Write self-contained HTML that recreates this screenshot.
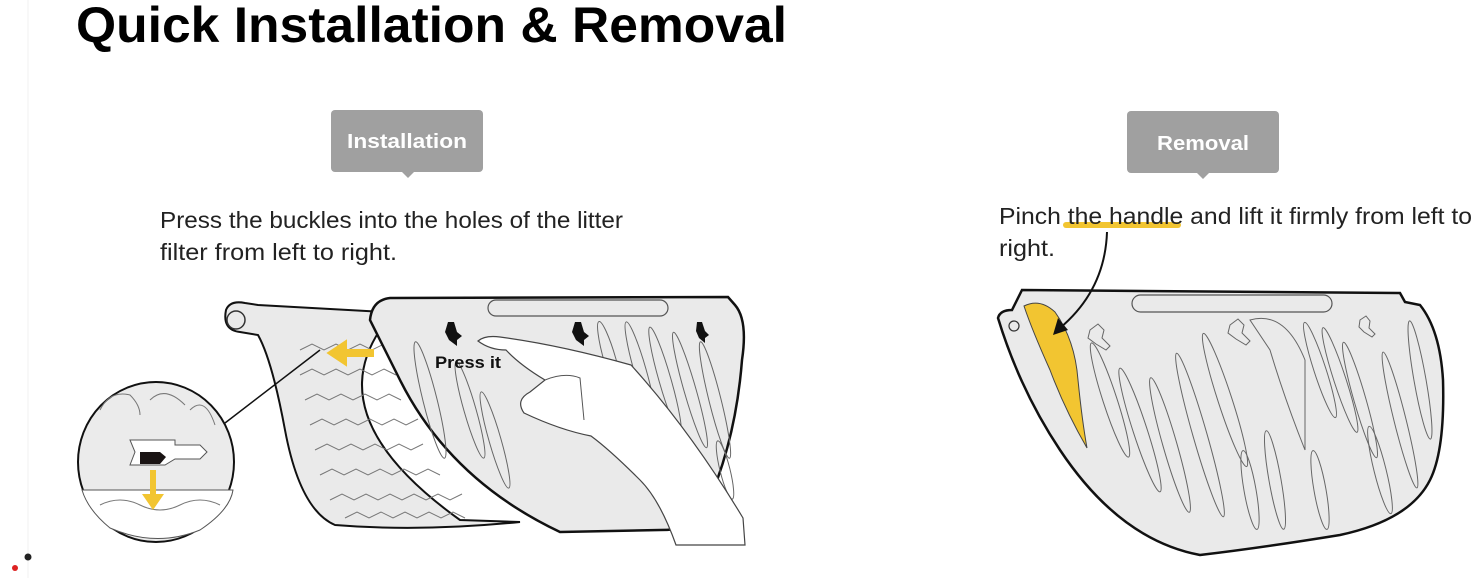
<!DOCTYPE html>
<html><head><meta charset="utf-8"><style>
html,body{margin:0;padding:0;background:#fff;}
svg{display:block;}
text{font-family:"Liberation Sans",sans-serif;}
</style></head><body>
<svg width="1472" height="578" viewBox="0 0 1472 578" xmlns="http://www.w3.org/2000/svg">
<line x1="28" y1="0" x2="28" y2="578" stroke="#f0f0f0" stroke-width="1"/>
<text x="76" y="42" font-size="50" font-weight="bold" textLength="711" lengthAdjust="spacingAndGlyphs" fill="#000">Quick Installation &amp; Removal</text>

<rect x="331" y="110" width="152" height="62" rx="4" fill="#a0a0a0"/>
<path d="M402 172 L408 178 L414 172 Z" fill="#a0a0a0"/>
<text x="407" y="148" font-size="20" font-weight="bold" fill="#fff" text-anchor="middle" textLength="120" lengthAdjust="spacingAndGlyphs">Installation</text>
<text x="160" y="228" font-size="23" fill="#222" textLength="463" lengthAdjust="spacingAndGlyphs">Press the buckles into the holes of the litter</text>
<text x="160" y="260" font-size="23" fill="#222" textLength="237" lengthAdjust="spacingAndGlyphs">filter from left to right.</text>

<rect x="1127" y="111" width="152" height="62" rx="4" fill="#a0a0a0"/>
<path d="M1197 173 L1203 179 L1209 173 Z" fill="#a0a0a0"/>
<text x="1203" y="150" font-size="20" font-weight="bold" fill="#fff" text-anchor="middle" textLength="92" lengthAdjust="spacingAndGlyphs">Removal</text>
<rect x="1063" y="222" width="118" height="6" rx="3" fill="#f2c531"/>
<text x="999" y="224" font-size="23" fill="#222" textLength="473" lengthAdjust="spacingAndGlyphs">Pinch the handle and lift it firmly from left to</text>
<text x="999" y="256" font-size="23" fill="#222" textLength="56" lengthAdjust="spacingAndGlyphs">right.</text>

<!-- LEFT: back mesh filter -->
<path d="M226 310 Q230 300 245 303 L258 305 L385 312 L380 330 Q320 420 460 520 L520 522 Q420 532 335 525 Q300 510 285 430 Q272 360 258 335 L240 332 Q222 330 226 310 Z" fill="#eaeaea" stroke="#111" stroke-width="2"/>
<circle cx="236" cy="320" r="9" fill="none" stroke="#333" stroke-width="1.5"/>
<g stroke="#777" stroke-width="1" fill="none">
<path d="M300 350 l12 -6 l12 6 l12 -6 l12 6 l12 -6 l12 6 l12 -6"/>
<path d="M300 375 l12 -6 l12 6 l12 -6 l12 6 l12 -6 l12 6 l12 -6 l12 6"/>
<path d="M305 400 l12 -6 l12 6 l12 -6 l12 6 l12 -6 l12 6 l12 -6 l12 6"/>
<path d="M310 425 l12 -6 l12 6 l12 -6 l12 6 l12 -6 l12 6 l12 -6 l12 6 l12 -6"/>
<path d="M315 450 l12 -6 l12 6 l12 -6 l12 6 l12 -6 l12 6 l12 -6 l12 6 l12 -6"/>
<path d="M320 475 l12 -6 l12 6 l12 -6 l12 6 l12 -6 l12 6 l12 -6 l12 6 l12 -6 l12 6"/>
<path d="M330 500 l12 -6 l12 6 l12 -6 l12 6 l12 -6 l12 6 l12 -6 l12 6 l12 -6 l12 6 l12 -6"/>
<path d="M345 518 l12 -6 l12 6 l12 -6 l12 6 l12 -6 l12 6 l12 -6 l12 6 l12 -6 l12 6"/>
</g>
<path d="M372 351 L345 351 L345 343 L330 353 L345 363 L345 355 L372 355 Z" fill="#f2c531" stroke="#f2c531" stroke-width="4"/>

<!-- LEFT: front panel -->
<path d="M390 298 L728 297 L735 305 Q748 320 742 360 Q735 450 700 520 Q690 530 660 530 L560 532 Q450 480 400 380 Q380 340 370 320 Q372 300 390 298 Z" fill="#eaeaea" stroke="#111" stroke-width="2.5"/>
<rect x="488" y="300" width="180" height="16" rx="8" fill="none" stroke="#555" stroke-width="1.2"/>
<g fill="none" stroke="#666" stroke-width="1">
<ellipse cx="430" cy="400" rx="7" ry="60" transform="rotate(-14 430 400)"/>
<ellipse cx="470" cy="410" rx="6" ry="50" transform="rotate(-16 470 410)"/>
<ellipse cx="495" cy="440" rx="6" ry="50" transform="rotate(-16 495 440)"/>
<ellipse cx="610" cy="360" rx="6" ry="40" transform="rotate(-16 610 360)"/>
<ellipse cx="640" cy="370" rx="6" ry="50" transform="rotate(-16 640 370)"/>
<ellipse cx="665" cy="380" rx="6" ry="55" transform="rotate(-16 665 380)"/>
<ellipse cx="690" cy="390" rx="6" ry="60" transform="rotate(-16 690 390)"/>
<ellipse cx="715" cy="400" rx="6" ry="60" transform="rotate(-14 715 400)"/>
<ellipse cx="700" cy="480" rx="6" ry="35" transform="rotate(-14 700 480)"/>
<ellipse cx="725" cy="470" rx="5" ry="30" transform="rotate(-14 725 470)"/>
</g>
<path d="M448 322 l6 0 l3 10 l5 4 l-5 4 l0 6 l-8 -6 l-4 -8 Z" fill="#111"/>
<path d="M575 322 l6 0 l3 10 l5 4 l-5 4 l0 6 l-8 -6 l-4 -8 Z" fill="#111"/>
<path d="M697 322 l5 0 l3 9 l4 4 l-4 3 l0 5 l-6 -5 l-3 -7 Z" fill="#111"/>
<text x="435" y="368" font-size="17" font-weight="bold" fill="#111" textLength="66" lengthAdjust="spacingAndGlyphs">Press it</text>
<!-- hand -->
<path d="M478 341 Q485 335 500 337 Q560 345 631 365 Q690 430 743 518 L745 545 L676 545 Q660 500 640 480 Q610 450 591 436 Q560 430 524 413 Q515 400 530 392 L545 380 Q520 365 506 350 Q490 350 478 341 Z" fill="#fff" stroke="#444" stroke-width="1.2"/>
<path d="M545 380 Q565 372 580 378 L584 420" fill="none" stroke="#555" stroke-width="1"/>

<!-- zoom circle -->
<line x1="225" y1="423" x2="320" y2="350" stroke="#111" stroke-width="1.5"/>
<ellipse cx="156" cy="462" rx="78" ry="80" fill="#ebebeb" stroke="#111" stroke-width="2"/>
<path d="M82 490 L233 490 Q230 510 200 530 Q156 548 110 528 Q88 510 82 490 Z" fill="#fff" stroke="#555" stroke-width="1"/>
<g fill="none" stroke="#777" stroke-width="1">
<path d="M100 410 Q110 390 130 395 Q140 405 140 415"/>
<path d="M150 400 Q165 385 185 405"/>
<path d="M190 410 Q205 395 215 425"/>
<path d="M100 505 Q120 495 140 505 Q160 515 180 505 Q200 495 220 505"/>
</g>
<path d="M130 440 L175 440 L175 445 L200 445 L207 452 L200 459 L175 459 L165 465 L130 465 L135 452 Z" fill="#fff" stroke="#555" stroke-width="1"/>
<path d="M140 452 L160 452 L166 457 L160 464 L140 464 Z" fill="#1a1414"/>
<path d="M150 470 L150 494 L142 494 L153 510 L164 494 L156 494 L156 470 Z" fill="#f2c531"/>

<!-- RIGHT panel -->
<path d="M1022 290 L1400 293 L1405 302 L1420 305 Q1440 330 1443 380 Q1445 450 1430 480 Q1410 520 1340 535 Q1260 548 1200 555 Q1120 540 1060 450 Q1020 390 998 318 Q1000 310 1012 310 Z" fill="#eaeaea" stroke="#111" stroke-width="2.5"/>
<rect x="1132" y="295" width="200" height="17" rx="8.5" fill="none" stroke="#555" stroke-width="1.2"/>
<circle cx="1014" cy="326" r="5" fill="none" stroke="#333" stroke-width="1.2"/>
<path d="M1024 306 Q1040 298 1055 312 Q1075 340 1078 380 Q1082 420 1087 448 Q1065 410 1050 370 Q1032 330 1024 306 Z" fill="#f2c531" stroke="#444" stroke-width="1"/>
<g fill="none" stroke="#666" stroke-width="1">
<path d="M1090 330 l8 -6 l6 6 l-2 8 l8 8 l-4 4 l-10 -6 l-8 -6 Z"/>
<path d="M1230 325 l8 -6 l6 6 l-2 8 l8 8 l-4 4 l-10 -6 l-8 -6 Z"/>
<path d="M1360 320 l6 -4 l4 5 l-1 7 l6 6 l-3 3 l-8 -5 l-5 -5 Z"/>
<ellipse cx="1110" cy="400" rx="7" ry="60" transform="rotate(-18 1110 400)"/>
<ellipse cx="1140" cy="430" rx="7" ry="65" transform="rotate(-18 1140 430)"/>
<ellipse cx="1170" cy="445" rx="7" ry="70" transform="rotate(-16 1170 445)"/>
<ellipse cx="1200" cy="435" rx="7" ry="85" transform="rotate(-16 1200 435)"/>
<ellipse cx="1225" cy="400" rx="7" ry="70" transform="rotate(-18 1225 400)"/>
<ellipse cx="1250" cy="490" rx="6" ry="40" transform="rotate(-10 1250 490)"/>
<ellipse cx="1275" cy="480" rx="6" ry="50" transform="rotate(-10 1275 480)"/>
<path d="M1250 320 Q1285 310 1305 360 L1305 450 Q1285 400 1270 350 Z"/>
<ellipse cx="1320" cy="370" rx="6" ry="50" transform="rotate(-18 1320 370)"/>
<ellipse cx="1340" cy="380" rx="6" ry="55" transform="rotate(-18 1340 380)"/>
<ellipse cx="1360" cy="400" rx="6" ry="60" transform="rotate(-16 1360 400)"/>
<ellipse cx="1320" cy="490" rx="6" ry="40" transform="rotate(-10 1320 490)"/>
<ellipse cx="1380" cy="470" rx="6" ry="45" transform="rotate(-14 1380 470)"/>
<ellipse cx="1400" cy="420" rx="6" ry="70" transform="rotate(-14 1400 420)"/>
<ellipse cx="1420" cy="380" rx="6" ry="60" transform="rotate(-10 1420 380)"/>
</g>
<path d="M1107 232 Q1105 290 1060 328" fill="none" stroke="#111" stroke-width="2"/>
<path d="M1053 335 L1058 318 L1068 330 Z" fill="#111"/>

<circle cx="28" cy="557" r="3.5" fill="#222"/>
<circle cx="15" cy="568" r="3" fill="#d22"/>
</svg>
</body></html>
